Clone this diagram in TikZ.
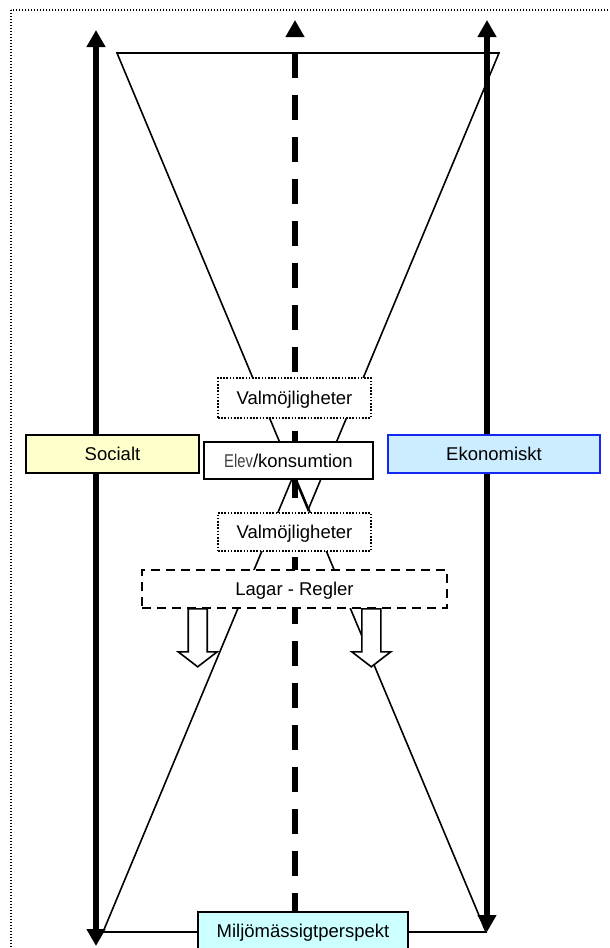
\documentclass[tikz,border=0pt]{standalone}
\usepackage{fontspec}
\setmainfont{Liberation Sans}
\usepackage{graphicx}
\usetikzlibrary{arrows.meta,backgrounds}
\definecolor{socyellow}{HTML}{FFFFCC}
\definecolor{ekoblue}{HTML}{CCECFF}
\definecolor{ekoedge}{HTML}{1428F0}
\definecolor{miljocyan}{HTML}{CCFFFF}

\begin{document}
\begin{tikzpicture}[
  x=1pt, y=-1pt,
  every node/.style={font=\fontsize{18.5}{22}\selectfont},
  box/.style={draw, line width=1.6pt, fill=white, inner sep=0pt, text height=13.3pt, text depth=0pt},
  choice/.style={box, dash pattern=on 1.6pt off 1.6pt},
  rules/.style={box, dash pattern=on 9pt off 6pt},
  side/.style={box, minimum height=38pt},
  funnel/.style={line width=1.6pt},
  axis/.style={line width=6pt, {Triangle[width=18pt,length=17pt]}-{Triangle[width=18pt,length=17pt]}},
  midline/.style={line width=6pt, dash pattern=on 25pt off 17pt, dash phase=25pt, {Triangle[width=18pt,length=17pt]}-},
  hollow/.style={draw, line width=1.6pt, fill=white, line join=miter},
  frame/.style={line width=1.2pt, dash pattern=on 1.2pt off 1.8pt},
]
  \useasboundingbox (0,0) rectangle (610,948);
  \draw[frame] (11,10) rectangle (640,980);

  % boxes
  \node[choice, minimum width=153pt, minimum height=40pt] (valtop) at (294.5,398) {Valmöjligheter};
  \node[box, minimum width=169pt, minimum height=37pt] (elev) at (288.5,460.5) {{\color{black!75}\scalebox{0.8}[1]{Elev}}/konsumtion};
  \node[choice, minimum width=153pt, minimum height=38pt] (valbot) at (294.5,532) {Valmöjligheter};
  \node[rules, minimum width=305pt, minimum height=38pt] (lagar) at (294.5,589) {Lagar - Regler};
  \node[side, fill=socyellow, minimum width=173pt] (social) at (112.5,454) {Socialt};
  \node[side, fill=ekoblue, draw=ekoedge, minimum width=212pt] (ekonomi) at (494,454) {Ekonomiskt};
  \node[box, fill=miljocyan, minimum width=210pt, minimum height=38pt] (miljo) at (303,931) {Miljömässigtperspekt};

  \coordinate (soctop) at (96,30);
  \coordinate (socbot) at (96,946);
  \coordinate (ekotop) at (487,20);
  \coordinate (ekobot) at (487,932);
  \coordinate (midtop) at (295,20);

  \begin{scope}[on background layer]
    \draw[funnel] (117,53) -- (499,53) -- (308,510) -- cycle;
    \draw[funnel] (294,474) -- (486,932) -- (103,932) -- cycle;
    \draw[axis] (soctop) -- (socbot);
    \draw[axis] (ekotop) -- (ekobot);
    \draw[midline] (midtop) -- (midtop |- miljo.north);
  \end{scope}

  % down arrows under the rules
  \draw[hollow] ([xshift=47pt]lagar.south west) -- ++(0,43) -- ++(-10,0) -- ++(19.5,15) -- ++(19.5,-15) -- ++(-10,0) -- ++(0,-43) -- cycle;
  \draw[hollow] ([xshift=-86pt]lagar.south east) -- ++(0,43) -- ++(-10,0) -- ++(19.5,15) -- ++(19.5,-15) -- ++(-10,0) -- ++(0,-43) -- cycle;
\end{tikzpicture}
\end{document}
